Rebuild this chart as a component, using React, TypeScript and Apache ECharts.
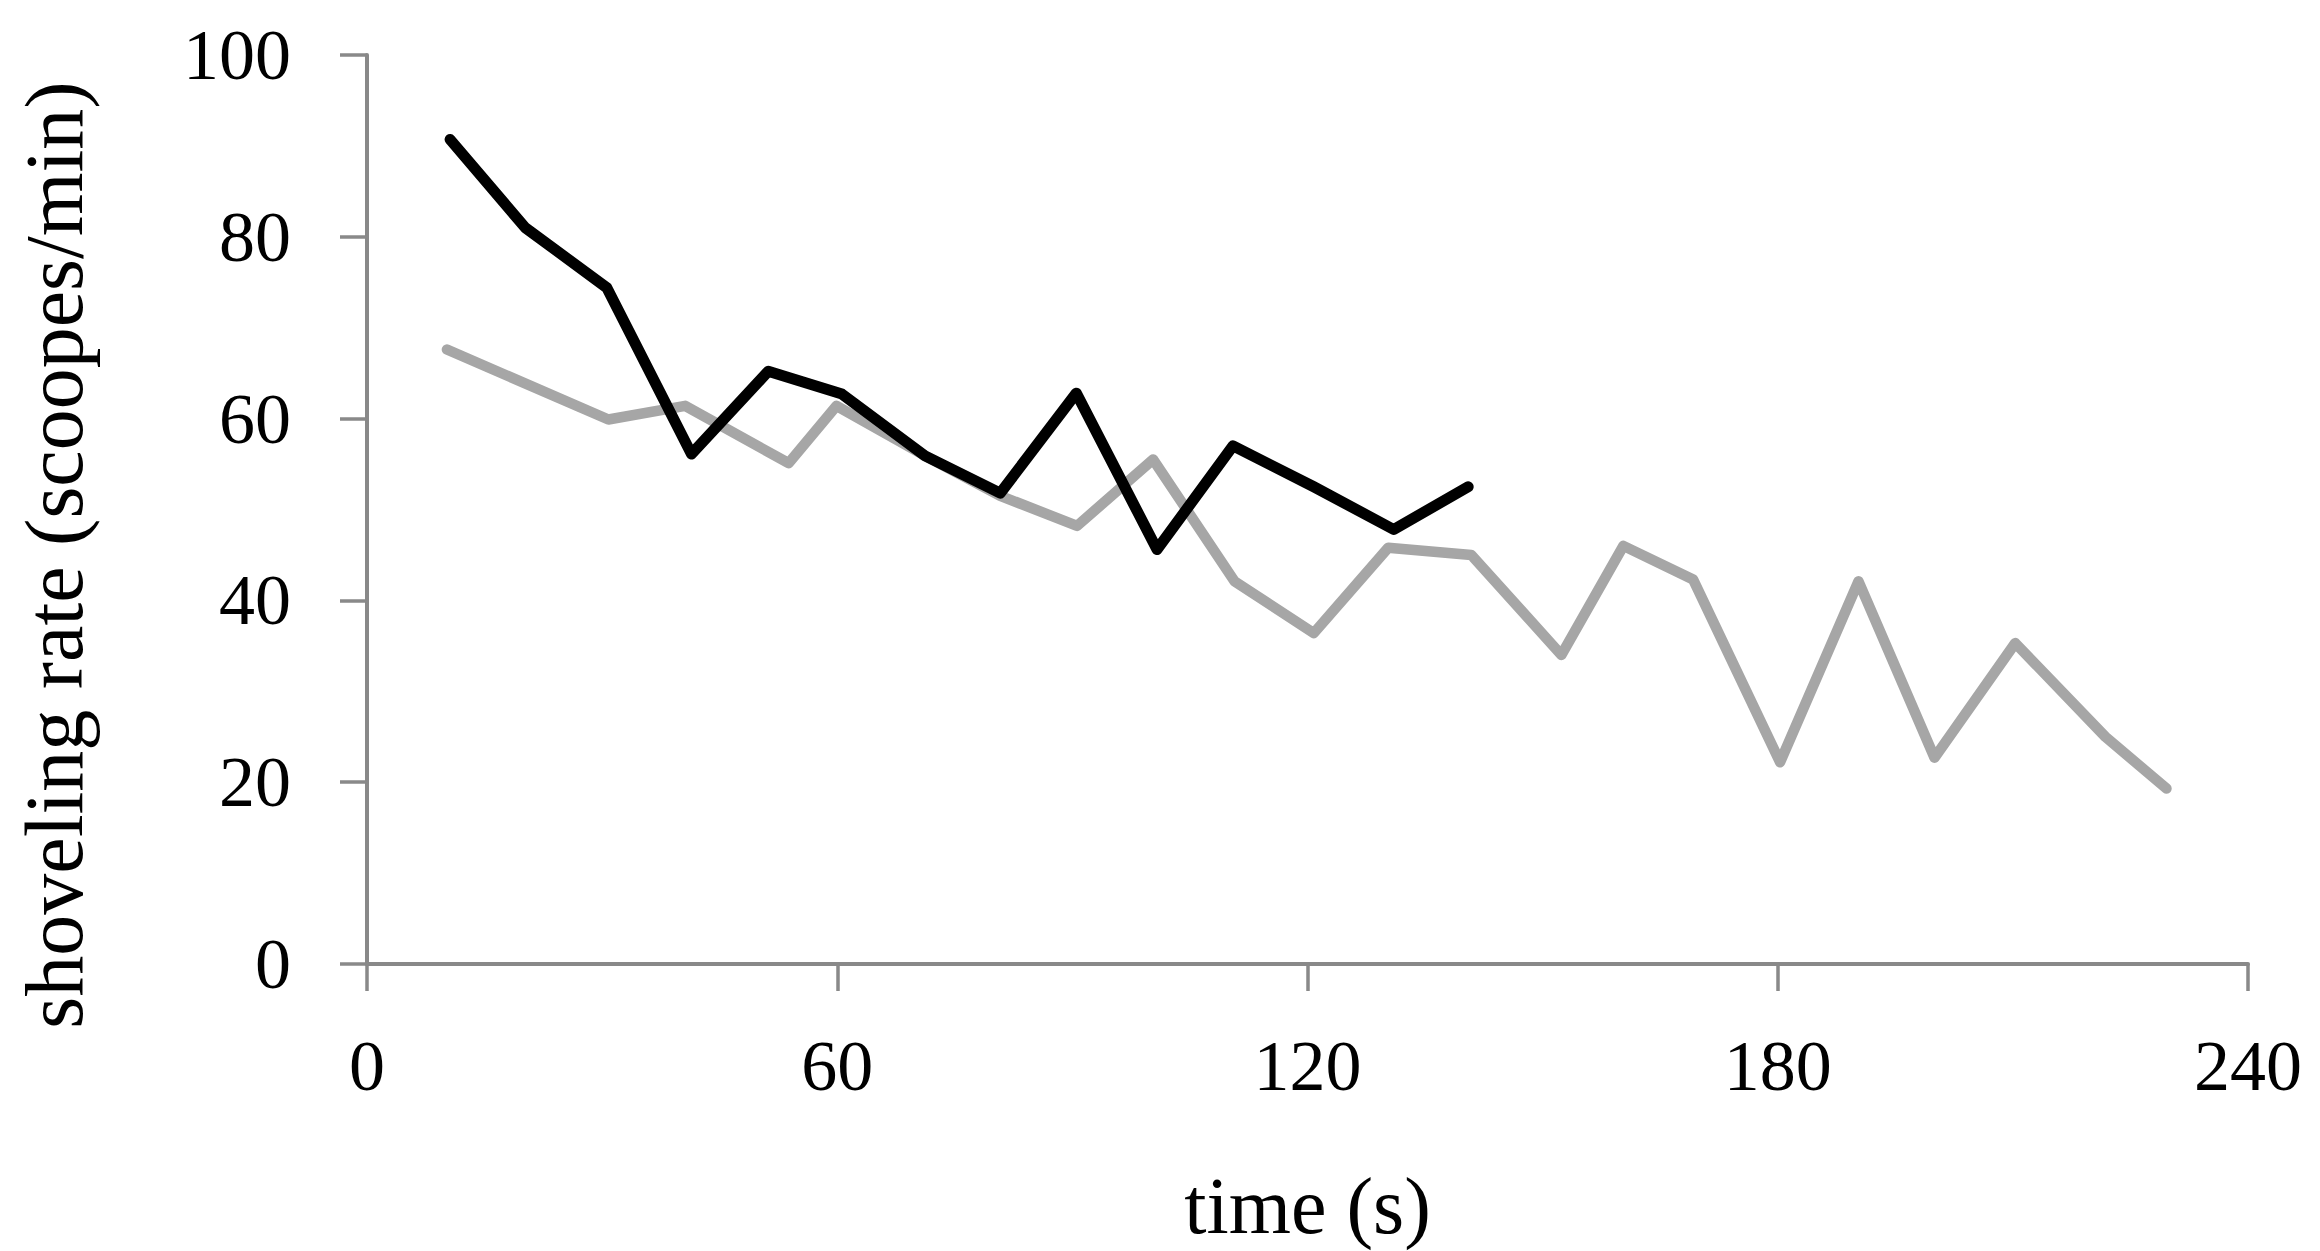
import React, { useEffect, useRef } from "react";
import * as echarts from "echarts";

const grayTime = [10.2, 30.8, 40.6, 53.8, 59.9, 70.8, 80.8, 90.6, 100.3, 110.7, 120.8, 130.3, 140.9, 152.4, 160.3, 169.2, 180.3, 190.3, 200.0, 210.3, 221.8, 229.6];
const grayRate = [67.6, 59.9, 61.4, 55.1, 61.4, 56.1, 51.5, 48.2, 55.5, 42.1, 36.4, 45.8, 45.0, 34.0, 46.0, 42.3, 22.2, 42.1, 22.7, 35.3, 25.0, 19.3];

const blackTime = [10.6, 20.2, 30.6, 41.4, 51.2, 60.6, 71.2, 80.8, 90.5, 100.8, 110.5, 120.8, 131.0, 140.5];
const blackRate = [90.7, 81.0, 74.4, 56.1, 65.2, 62.7, 55.9, 51.8, 62.8, 45.6, 57.0, 52.5, 47.8, 52.5];

const xTitle = "time (s)";
const yTitle = "shoveling rate (scoopes/min)";

const FONT = "Liberation Serif";
const AXIS_COLOR = "#898989";

export default function App() {
  const ref = useRef<HTMLDivElement>(null);

  useEffect(() => {
    if (!ref.current) return;
    const chart = echarts.init(ref.current, undefined, { renderer: "svg" });
    const zip = (xs: number[], ys: number[]) => xs.map((x, i) => [x, ys[i]]);
    chart.setOption({
      animation: false,
      backgroundColor: "#ffffff",
      grid: {
        left: 367,
        right: 72,
        top: 55,
        bottom: 287,
        containLabel: false,
        outerBoundsMode: "none",
      },
      xAxis: {
        type: "value",
        min: 0,
        max: 240,
        interval: 60,
        name: xTitle,
        nameLocation: "middle",
        nameGap: 202,
        nameTextStyle: { fontFamily: FONT, fontSize: 80, color: "#000" },
        axisLine: { show: true, onZero: false, lineStyle: { color: AXIS_COLOR, width: 4 } },
        axisTick: { show: true, length: 27, lineStyle: { color: AXIS_COLOR, width: 3.5 } },
        axisLabel: { fontFamily: FONT, fontSize: 72, color: "#000", margin: 66 },
        splitLine: { show: false },
      },
      yAxis: {
        type: "value",
        min: 0,
        max: 100,
        interval: 20,
        axisLine: { show: true, onZero: false, lineStyle: { color: AXIS_COLOR, width: 4 } },
        axisTick: { show: true, length: 27, lineStyle: { color: AXIS_COLOR, width: 3.5 } },
        axisLabel: { fontFamily: FONT, fontSize: 72, color: "#000", margin: 76 },
        splitLine: { show: false },
      },
      graphic: [
        {
          type: "text",
          x: 54,
          y: 555,
          rotation: Math.PI / 2,
          style: {
            text: yTitle,
            fontFamily: FONT,
            fontSize: 82,
            fill: "#000",
            align: "center",
            verticalAlign: "middle",
          },
        },
      ],
      series: [
        {
          type: "line",
          name: "gray",
          data: zip(grayTime, grayRate),
          showSymbol: false,
          symbol: "none",
          lineStyle: { color: "#A6A6A6", width: 10.5, cap: "round", join: "round" },
          z: 2,
        },
        {
          type: "line",
          name: "black",
          data: zip(blackTime, blackRate),
          showSymbol: false,
          symbol: "none",
          lineStyle: { color: "#000000", width: 11, cap: "round", join: "round" },
          z: 3,
        },
      ],
    });
    return () => chart.dispose();
  }, []);

  return (
    <div
      ref={ref}
      style={{ position: "absolute", left: 0, top: 0, width: 2320, height: 1251, background: "#fff" }}
    />
  );
}
